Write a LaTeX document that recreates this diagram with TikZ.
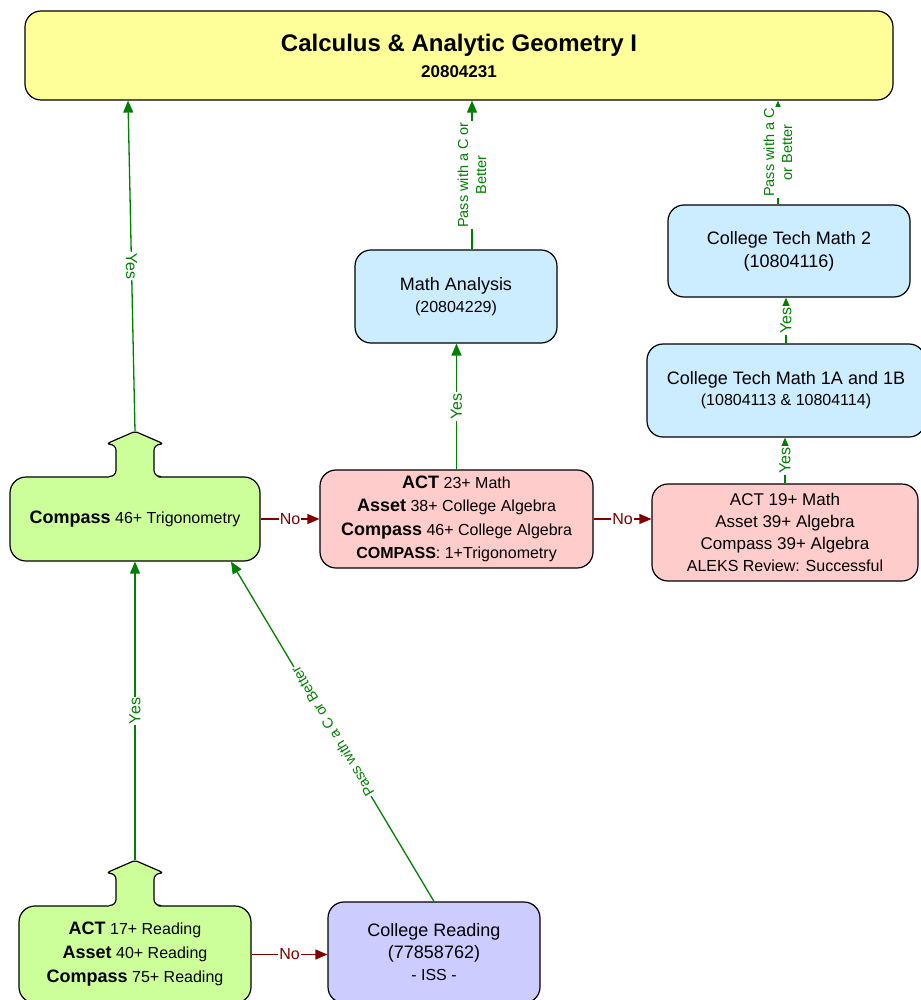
\documentclass[tikz,border=0pt]{standalone}
\usepackage{fontspec}
\setmainfont{Liberation Sans}
\usepackage{tikz}
\usetikzlibrary{arrows.meta}
\definecolor{ylw}{HTML}{FFFF99}
\definecolor{blu}{HTML}{CCECFF}
\definecolor{pnk}{HTML}{FFCCCC}
\definecolor{grn}{HTML}{CCFF99}
\definecolor{lav}{HTML}{CCCCFF}
\definecolor{okgreen}{HTML}{008000}
\definecolor{nored}{HTML}{800000}
\tikzset{
  box/.style={draw=black, line width=1.2pt, rounded corners=16pt,
    align=center, inner sep=0pt},
  yes/.style={color=okgreen, line width=1.3pt,
    -{Triangle[length=12pt,width=10pt]}},
  no/.style={color=nored, line width=1.3pt,
    -{Triangle[length=12pt,width=10pt]}},
  lbl/.style={fill=white, inner sep=1pt, midway, sloped,
    font=\fontsize{16}{18}\selectfont},
  pass/.style={align=center, font=\fontsize{14.5}{18}\selectfont}
}
\newcommand{\kw}[1]{{\fontsize{18}{0}\selectfont\bfseries #1}}
\newcommand{\tabtop}[2]{%
  \begin{scope}[shift={(#1.north)}]
    \fill[#2, rounded corners=6pt] (-26,0) -- (-19,0) -- (-19,-32) -- (-30,-32)
      [rounded corners=2pt] -- (0,-45) [rounded corners=6pt] -- (30,-32)
      -- (19,-32) -- (19,0) -- (26,0) [sharp corners]
      -- (26,2) -- (-26,2) -- cycle;
    \draw[line width=1.2pt, rounded corners=6pt] (-26,0) -- (-19,0) -- (-19,-32)
      -- (-30,-32) [rounded corners=2pt] -- (0,-45) [rounded corners=6pt]
      -- (30,-32) -- (19,-32) -- (19,0) -- (26,0);
    \coordinate (#1-tip) at (0,-45);
  \end{scope}}

\begin{document}
\begin{tikzpicture}[x=1pt,y=-1pt]
\useasboundingbox (0,0) rectangle (920,1000);

\node[box, fill=ylw, minimum width=868pt, minimum height=89pt,
  font=\fontsize{17}{26}\selectfont\bfseries] (title) at (459,55.5)
  {{\fontsize{24}{0}\selectfont Calculus \& Analytic Geometry I}\\20804231};

\node[box, fill=blu, minimum width=202pt, minimum height=93pt,
  font=\fontsize{16}{22}\selectfont] (ma) at (456,296.5)
  {{\fontsize{18}{0}\selectfont Math Analysis}\\(20804229)};
\node[box, fill=blu, minimum width=242pt, minimum height=92pt,
  font=\fontsize{18}{23}\selectfont] (ctm2) at (789,251)
  {College Tech Math 2\\(10804116)};
\node[box, fill=blu, minimum width=278pt, minimum height=93pt,
  font=\fontsize{16}{21}\selectfont] (ctm1) at (786,390.5)
  {{\fontsize{18}{0}\selectfont College Tech Math 1A and 1B}\\(10804113 \& 10804114)};

\node[box, fill=grn, minimum width=250pt, minimum height=84pt,
  font=\fontsize{16}{20}\selectfont] (cmp) at (135,519)
  {\kw{Compass} 46+ Trigonometry};
\tabtop{cmp}{grn}
\node[box, fill=pnk, minimum width=273pt, minimum height=98pt,
  font=\fontsize{16}{23.5}\selectfont] (pk1) at (456.5,519)
  {\kw{ACT} 23+ Math\\\kw{Asset} 38+ College Algebra\\
   \kw{Compass} 46+ College Algebra\\\textbf{COMPASS}: 1+Trigonometry};
\node[box, fill=pnk, minimum width=266pt, minimum height=97pt,
  font=\fontsize{17}{22}\selectfont] (pk2) at (785,532.5)
  {ACT 19+ Math\\Asset 39+ Algebra\\Compass 39+ Algebra\\
   {\fontsize{16}{0}\selectfont ALEKS Review: Successful}};

\node[box, fill=grn, minimum width=232pt, minimum height=97pt,
  font=\fontsize{16}{24}\selectfont] (rd) at (135,954.5)
  {\kw{ACT} 17+ Reading\\\kw{Asset} 40+ Reading\\\kw{Compass} 75+ Reading};
\tabtop{rd}{grn}
\node[box, fill=lav, minimum width=212pt, minimum height=101pt,
  font=\fontsize{18}{22}\selectfont] (cr) at (434,952.5)
  {College Reading\\(77858762)\\{\fontsize{16}{0}\selectfont - ISS -}};

\coordinate (t-left) at ([xshift=-331pt]title.south);
\coordinate (ma-top) at ([xshift=16pt]ma.north);
\coordinate (c2-top) at ([xshift=-11pt]ctm2.north);
\coordinate (cmp-in) at ([xshift=96pt]cmp.south);

\draw[yes] (cmp-tip) -- (t-left) node[lbl] {Yes};
\draw[yes] (ma-top) -- (ma-top |- title.south)
  node[lbl, pass] {Pass with a C or\\Better};
\draw[yes] (c2-top) -- (c2-top |- title.south)
  node[lbl, pass] {Pass with a C\\or Better};
\draw[yes] (pk1.north) -- (pk1.north |- ma.south) node[lbl] {Yes};
\draw[yes] (ctm1.north) -- (ctm1.north |- ctm2.south) node[lbl] {Yes};
\draw[yes] (pk2.north) -- (pk2.north |- ctm1.south) node[lbl] {Yes};
\draw[no] (cmp.east) -- (pk1.west) node[lbl] {No};
\draw[no] (pk1.east) -- (pk1.east -| pk2.west) node[lbl] {No};
\draw[yes] (rd-tip) -- (cmp.south) node[lbl] {Yes};
\draw[no] (rd.east) -- (rd.east -| cr.west) node[lbl] {No};
\draw[yes] (cr.north) -- (cmp-in)
  node[lbl, allow upside down, font=\fontsize{14.5}{17}\selectfont]
  {Pass with a C or Better};
\end{tikzpicture}
\end{document}
